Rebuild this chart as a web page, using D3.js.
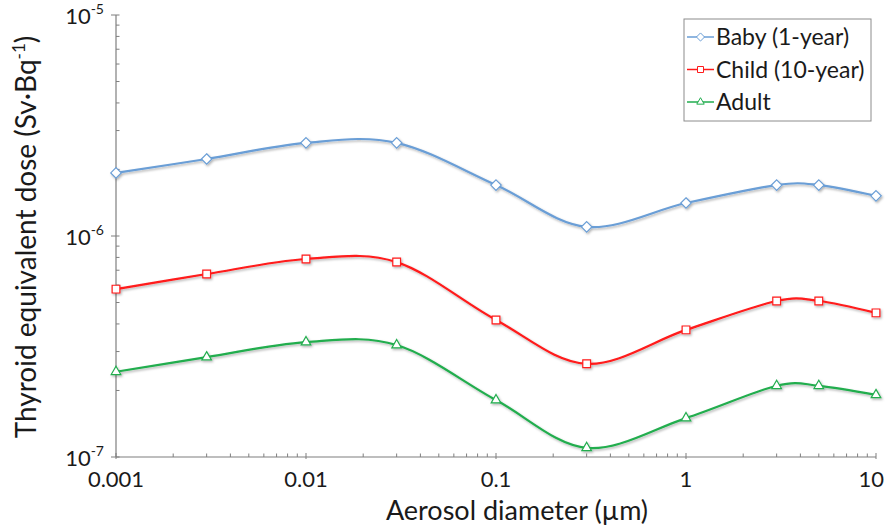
<!DOCTYPE html>
<html>
<head>
<meta charset="utf-8">
<script src="https://cdn.jsdelivr.net/npm/d3@7"></script>
<style>
  body { margin: 0; background: #fff; }
  svg { font-family: Lato, "Open Sans", sans-serif; }
</style>
</head>
<body>
<svg width="885" height="526"></svg>
<script>
// aerosol diameters (um)
const diameters = [0.001, 0.003, 0.01, 0.03, 0.1, 0.3, 1, 3, 5, 10];

// thyroid equivalent dose (Sv/Bq)
const baby  = [1.93e-6, 2.23e-6, 2.64e-6, 2.64e-6, 1.70e-6, 1.10e-6, 1.41e-6, 1.70e-6, 1.70e-6, 1.52e-6];
const child = [5.75e-7, 6.73e-7, 7.87e-7, 7.62e-7, 4.17e-7, 2.64e-7, 3.76e-7, 5.08e-7, 5.08e-7, 4.49e-7];
const adult = [2.43e-7, 2.83e-7, 3.31e-7, 3.21e-7, 1.81e-7, 1.10e-7, 1.50e-7, 2.10e-7, 2.10e-7, 1.91e-7];

const seriesNames = ['Baby (1-year)', 'Child (10-year)', 'Adult'];
const xTicks = [0.001, 0.01, 0.1, 1, 10];
const xTickLabels = ['0.001', '0.01', '0.1', '1', '10'];
const yTicks = [1e-7, 1e-6, 1e-5];
const yTickExps = ['-7', '-6', '-5'];

const series = [
    { name: seriesNames[0], values: baby,  color: '#6a9ed6', symbol: d3.symbolDiamond2, size: 70 },
    { name: seriesNames[1], values: child, color: '#ff1a1a', symbol: d3.symbolSquare,   size: 60 },
    { name: seriesNames[2], values: adult, color: '#21ad4e', symbol: d3.symbolTriangle, size: 40 },
];

const plot = { left: 116, top: 15, right: 876, bottom: 457 };

const svg = d3.select('svg');

const defs = svg.append('defs');
const shadow = defs.append('filter').attr('id', 'shadow')
    .attr('x', '-20%').attr('y', '-20%').attr('width', '140%').attr('height', '140%');
shadow.append('feDropShadow')
    .attr('dx', 1.2).attr('dy', 1.5).attr('stdDeviation', 1)
    .attr('flood-color', '#000').attr('flood-opacity', 0.3);

const x = d3.scaleLog().domain([0.001, 10]).range([plot.left, plot.right]);
const y = d3.scaleLog().domain([1e-7, 1e-5]).range([plot.bottom, plot.top]);

// minor ticks
const xMinor = [];
for (let e = -3; e < 1; e++) for (let k = 2; k <= 9; k++) xMinor.push(k * Math.pow(10, e));
const yMinor = [];
for (let e = -7; e < -5; e++) for (let k = 2; k <= 9; k++) yMinor.push(k * Math.pow(10, e));

const axisColor = '#7f7f7f';
const textColor = '#1a1a1a';
const gAxes = svg.append('g');

// x axis
gAxes.append('line')
    .attr('x1', plot.left).attr('x2', plot.right)
    .attr('y1', plot.bottom).attr('y2', plot.bottom)
    .attr('stroke', axisColor).attr('stroke-width', 1.2);
gAxes.selectAll('.xminor').data(xMinor).join('line')
    .attr('x1', d => x(d)).attr('x2', d => x(d))
    .attr('y1', plot.bottom - 3.5).attr('y2', plot.bottom)
    .attr('stroke', axisColor);
gAxes.selectAll('.xmajor').data(xTicks).join('line')
    .attr('x1', d => x(d)).attr('x2', d => x(d))
    .attr('y1', plot.bottom - 4).attr('y2', plot.bottom + 2)
    .attr('stroke', axisColor);
gAxes.selectAll('.xlab').data(xTicks).join('text')
    .attr('x', (d, i) => i === xTicks.length - 1 ? 884 : x(d))
    .attr('y', plot.bottom + 30)
    .attr('text-anchor', (d, i) => i === xTicks.length - 1 ? 'end' : 'middle')
    .attr('font-size', 22).attr('fill', textColor)
    .text((d, i) => xTickLabels[i]);

// y axis
gAxes.append('line')
    .attr('x1', plot.left).attr('x2', plot.left)
    .attr('y1', plot.top).attr('y2', plot.bottom)
    .attr('stroke', axisColor).attr('stroke-width', 1.2);
gAxes.selectAll('.yminor').data(yMinor).join('line')
    .attr('x1', plot.left).attr('x2', plot.left + 3.5)
    .attr('y1', d => y(d)).attr('y2', d => y(d))
    .attr('stroke', axisColor);
gAxes.selectAll('.ymajor').data(yTicks).join('line')
    .attr('x1', plot.left - 5).attr('x2', plot.left + 3.5)
    .attr('y1', d => y(d)).attr('y2', d => y(d))
    .attr('stroke', axisColor);
const ylab = gAxes.selectAll('.ylab').data(yTicks).join('text')
    .attr('x', plot.left - 12).attr('y', d => y(d) + 9)
    .attr('text-anchor', 'end')
    .attr('font-size', 22).attr('fill', textColor);
ylab.append('tspan').text('10');
ylab.append('tspan').attr('dy', -10).attr('font-size', 14).text((d, i) => yTickExps[i]);

// axis titles
svg.append('text')
    .attr('x', 517).attr('y', 520)
    .attr('text-anchor', 'middle')
    .attr('font-size', 27).attr('fill', textColor)
    .text('Aerosol diameter (µm)');

const yTitle = svg.append('text')
    .attr('transform', 'translate(36,237) rotate(-90)')
    .attr('text-anchor', 'middle')
    .attr('font-size', 28).attr('fill', textColor);
yTitle.append('tspan').text('Thyroid equivalent dose (Sv·Bq');
yTitle.append('tspan').attr('dy', -11).attr('font-size', 17).text('-1');
yTitle.append('tspan').attr('dy', 11).text(')');

// lines
const line = d3.line()
    .x((d, i) => x(diameters[i]))
    .y(d => y(d))
    .curve(d3.curveCardinal.tension(0));

const gSeries = svg.append('g').attr('filter', 'url(#shadow)');
series.forEach(s => {
    const g = gSeries.append('g');
    g.append('path')
        .attr('d', line(s.values))
        .attr('fill', 'none')
        .attr('stroke', s.color)
        .attr('stroke-width', 2.2);
    g.selectAll('path.m').data(s.values).join('path')
        .attr('class', 'm')
        .attr('transform', (d, i) => 'translate(' + x(diameters[i]) + ',' + y(d) + ')')
        .attr('d', d3.symbol().type(s.symbol).size(s.size))
        .attr('fill', '#fff')
        .attr('stroke', s.color)
        .attr('stroke-width', 1.2);
});

// legend
const legend = svg.append('g').attr('transform', 'translate(684,19)');
legend.append('rect')
    .attr('width', 187).attr('height', 102)
    .attr('fill', '#fff').attr('stroke', '#8c8c8c').attr('stroke-width', 1);
series.forEach((s, i) => {
    const ly = 18 + i * 32.5;
    legend.append('line')
        .attr('x1', 3).attr('x2', 30).attr('y1', ly).attr('y2', ly)
        .attr('stroke', s.color).attr('stroke-width', 1.5);
    legend.append('path')
        .attr('transform', 'translate(16.5,' + ly + ')')
        .attr('d', d3.symbol().type(s.symbol).size(s.size * 0.6))
        .attr('fill', '#fff').attr('stroke', s.color).attr('stroke-width', 1);
    legend.append('text')
        .attr('x', 32).attr('y', ly + 8)
        .attr('font-size', 23).attr('fill', textColor)
        .text(s.name);
});
</script>
</body>
</html>
